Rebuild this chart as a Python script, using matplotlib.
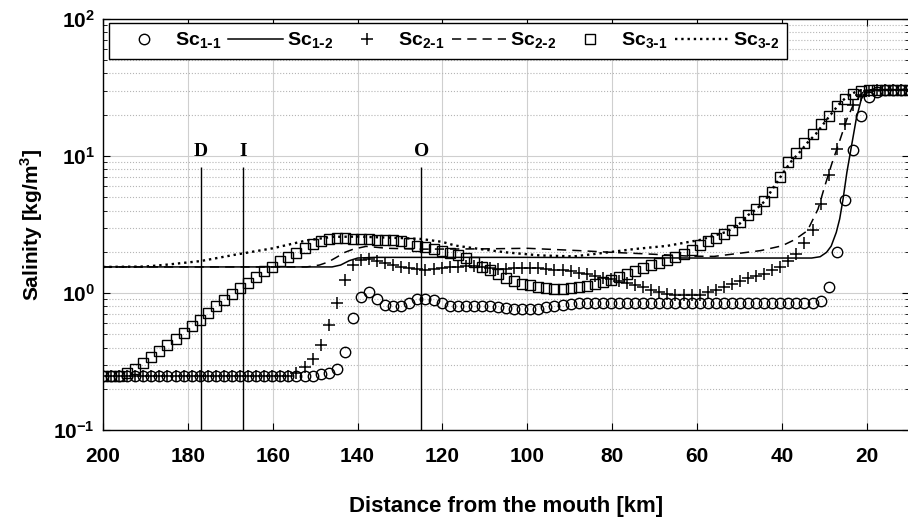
import numpy as np
import matplotlib
matplotlib.use('Agg')
import matplotlib.pyplot as plt

plt.rcParams['font.family'] = ['Liberation Sans', 'DejaVu Sans']
plt.rcParams['font.weight'] = 'bold'
plt.rcParams['axes.labelweight'] = 'bold'
plt.rcParams['axes.unicode_minus'] = False

# distance grid of the model output [km]
dist = np.linspace(200, 10, 101)

# Sc1-1 (circles)
sc11 = [0.25, 0.25, 0.25, 0.25, 0.25, 0.25, 0.25, 0.25, 0.25, 0.25,
        0.25, 0.25, 0.25, 0.25, 0.25, 0.25, 0.25, 0.25, 0.25, 0.25,
        0.25, 0.25, 0.25, 0.25, 0.25, 0.25, 0.25, 0.255, 0.26, 0.28,
        0.37, 0.66, 0.93, 1.02, 0.90, 0.82, 0.80, 0.81, 0.85, 0.90,
        0.91, 0.89, 0.85, 0.81, 0.80, 0.80, 0.81, 0.81, 0.80, 0.79,
        0.78, 0.77, 0.76, 0.76, 0.77, 0.79, 0.81, 0.82, 0.83, 0.84,
        0.84, 0.85, 0.85, 0.85, 0.84, 0.84, 0.85, 0.85, 0.85, 0.84,
        0.84, 0.85, 0.85, 0.85, 0.85, 0.84, 0.84, 0.85, 0.85, 0.85,
        0.85, 0.85, 0.84, 0.84, 0.85, 0.85, 0.85, 0.85, 0.85, 0.87,
        1.10, 2.00, 4.80, 11.0, 19.5, 27.0, 29.5, 30.3, 30.5, 30.5,
        30.5]

# Sc2-1 (plus)
sc21 = [0.25, 0.25, 0.25, 0.25, 0.25, 0.25, 0.25, 0.25, 0.25, 0.25,
        0.25, 0.25, 0.25, 0.25, 0.25, 0.25, 0.25, 0.25, 0.25, 0.25,
        0.25, 0.25, 0.25, 0.25, 0.26, 0.29, 0.33, 0.42, 0.58, 0.84,
        1.25, 1.60, 1.74, 1.76, 1.72, 1.66, 1.60, 1.56, 1.52, 1.49,
        1.48, 1.50, 1.52, 1.54, 1.56, 1.57, 1.57, 1.55, 1.52, 1.50,
        1.50, 1.51, 1.52, 1.53, 1.52, 1.50, 1.48, 1.47, 1.45, 1.41,
        1.37, 1.33, 1.29, 1.26, 1.22, 1.18, 1.14, 1.10, 1.06, 1.02,
        0.99, 0.97, 0.96, 0.96, 0.97, 1.01, 1.05, 1.10, 1.17, 1.23,
        1.28, 1.32, 1.37, 1.46, 1.55, 1.70, 1.92, 2.30, 2.90, 4.50,
        7.30, 11.3, 17.0, 23.5, 28.0, 30.0, 30.5, 30.5, 30.5, 30.5,
        30.5]

# Sc3-1 (squares)
sc31 = [0.25, 0.25, 0.25, 0.26, 0.28, 0.31, 0.34, 0.38, 0.42, 0.46,
        0.51, 0.57, 0.64, 0.72, 0.80, 0.89, 0.99, 1.08, 1.19, 1.31,
        1.44, 1.56, 1.70, 1.83, 1.97, 2.12, 2.26, 2.38, 2.46, 2.50,
        2.50, 2.48, 2.47, 2.46, 2.45, 2.45, 2.44, 2.40, 2.30, 2.22,
        2.17, 2.10, 2.03, 1.96, 1.88, 1.79, 1.68, 1.56, 1.46, 1.37,
        1.29, 1.22, 1.17, 1.14, 1.11, 1.08, 1.07, 1.07, 1.08, 1.10,
        1.13, 1.17, 1.20, 1.25, 1.31, 1.37, 1.45, 1.52, 1.60, 1.66,
        1.73, 1.82, 1.92, 2.06, 2.24, 2.40, 2.52, 2.68, 2.90, 3.30,
        3.70, 4.10, 4.70, 5.50, 7.00, 9.00, 10.5, 12.5, 14.5, 17.0,
        19.5, 23.0, 26.0, 28.5, 30.0, 30.5, 30.5, 30.5, 30.5, 30.5,
        30.5]

# Sc1-2 (solid line)
x12 = [200, 146, 144, 142, 140, 136, 120, 100, 60, 40, 33, 31, 29.5, 28.4,
       27.2, 26.4, 25.6, 24.7, 23.6, 22.5, 21.3, 20.1, 18.6, 10]
sc12 = [1.55, 1.55, 1.60, 1.72, 1.80, 1.82, 1.82, 1.82, 1.80, 1.80, 1.80, 1.84,
        1.98, 2.2, 2.77, 3.47, 4.85, 7.6, 11.9, 18.6, 26.0, 30.0, 30.5, 30.5]

# Sc2-2 (dashed line)
x22 = [200, 152, 149, 147, 145, 143, 141, 138, 133, 125, 110, 100, 88, 80,
       72, 62, 56, 50, 45, 40, 37, 34, 31.5, 30, 28.3, 26.4, 24.7, 22.9, 21,
       19, 10]
sc22 = [1.55, 1.55, 1.60, 1.68, 1.82, 1.98, 2.09, 2.19, 2.12, 2.09, 2.10, 2.12,
        2.04, 1.98, 1.93, 1.86, 1.85, 1.95, 2.04, 2.21, 2.45, 2.85, 4.1, 5.9,
        8.7, 12.9, 18.6, 24.7, 29.0, 30.5, 30.5]

# Sc3-2 (dotted line)
x32 = [200, 190, 185, 177, 169, 160, 152, 146, 140, 130, 125, 120, 117, 111,
       105, 97, 89, 81, 75, 67, 59, 56, 53, 50, 48, 46, 44, 42, 40, 38, 36,
       34, 32, 30, 28, 26, 24, 22, 10]
sc32 = [1.55, 1.56, 1.61, 1.71, 1.90, 2.12, 2.42, 2.57, 2.58, 2.52, 2.48, 2.36,
        2.22, 2.09, 1.98, 1.88, 1.85, 1.98, 2.09, 2.21, 2.45, 2.62, 2.80, 3.2,
        3.7, 4.1, 4.7, 5.9, 7.3, 9.0, 10.5, 12.5, 14.5, 17.5, 21.0, 25.0, 28.0,
        30.0, 30.5]

# section markers
sec_x = [177, 167, 125]
sec_lab = ['D', 'I', 'O']
sec_top = 8.3

labels = [r'Sc$_{\mathdefault{1}\text{-}\mathdefault{1}}$',
          r'Sc$_{\mathdefault{1}\text{-}\mathdefault{2}}$',
          r'Sc$_{\mathdefault{2}\text{-}\mathdefault{1}}$',
          r'Sc$_{\mathdefault{2}\text{-}\mathdefault{2}}$',
          r'Sc$_{\mathdefault{3}\text{-}\mathdefault{1}}$',
          r'Sc$_{\mathdefault{3}\text{-}\mathdefault{2}}$']

fig = plt.figure(figsize=(9.08, 5.27), dpi=100)
ax = fig.add_axes([0.1134, 0.184, 0.888, 0.780])

ax.plot(dist, sc11, 'o', mfc='none', mec='k', ms=7.5, mew=1.0, label=labels[0])
ax.plot(x12, sc12, '-', color='k', lw=1.1, label=labels[1])
ax.plot(dist, sc21, '+', color='k', ms=9, mew=1.1, label=labels[2])
ax.plot(x22, sc22, '--', color='k', lw=1.1, dashes=(6, 4), label=labels[3])
ax.plot(dist, sc31, 's', mfc='none', mec='k', ms=7, mew=1.0, label=labels[4])
ax.plot(x32, sc32, ':', color='k', lw=1.7, label=labels[5])

ax.vlines(sec_x, 0.1, sec_top, color='k', lw=1.0)
for xs, lab in zip(sec_x, sec_lab):
    ax.text(xs, 10, lab, family='Liberation Serif', weight='bold', fontsize=14,
            ha='center', va='baseline')

ax.set_yscale('log')
ax.set_ylim(0.1, 100)
ax.set_xlim(200, 10)
ax.set_xticks(np.arange(200, 10, -20))

ax.grid(True, which='major', color='#cfcfcf', lw=0.8, ls='-')
ax.grid(True, which='minor', axis='y', color='#b5b5b5', lw=0.8, ls=':')
ax.set_axisbelow(True)

ax.tick_params(which='both', direction='in', top=True, right=True, labelsize=15)
ax.tick_params(which='major', length=5)
ax.tick_params(which='minor', length=3)
ax.tick_params(axis='x', pad=12)
ax.tick_params(axis='y', pad=6)
for sp in ax.spines.values():
    sp.set_linewidth(1.0)

ax.set_xlabel('Distance from the mouth [km]', fontsize=16, labelpad=22)
ax.set_ylabel(r'Salinity [kg/m$^\mathdefault{3}$]', fontsize=15, labelpad=6)

leg = ax.legend(loc='upper left', bbox_to_anchor=(0.0074, 0.99), ncol=6,
                borderaxespad=0, fontsize=14, handlelength=2.8,
                handletextpad=0.2, columnspacing=0.35, fancybox=False,
                edgecolor='k', framealpha=1, borderpad=0.4)
leg.get_frame().set_linewidth(1.0)

fig.savefig('out.png', dpi=100)
